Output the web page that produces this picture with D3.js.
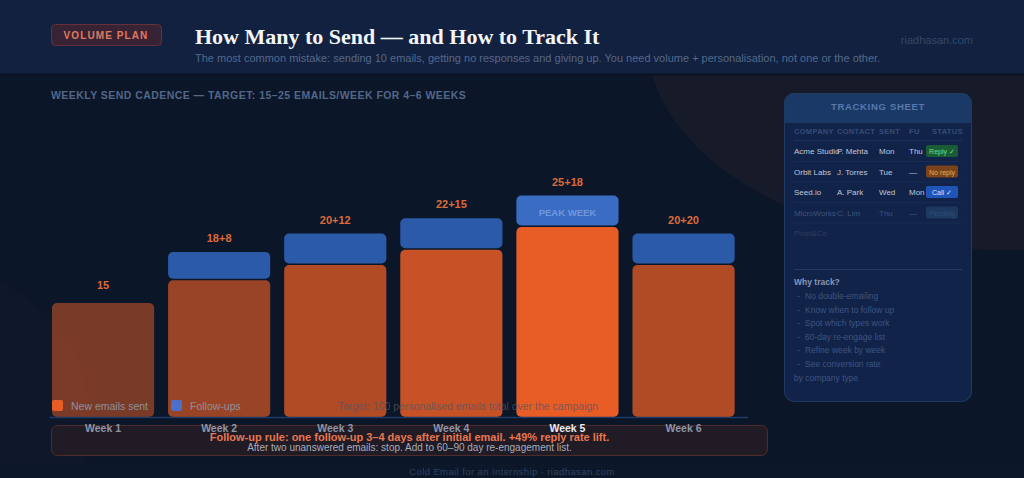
<!DOCTYPE html>
<html>
<head>
<meta charset="utf-8">
<script src="https://cdn.jsdelivr.net/npm/d3@7"></script>
<style>
  html, body { margin: 0; padding: 0; background: #0b1628; }
  svg { display: block; font-family: "Liberation Sans", Arial, sans-serif; }
</style>
</head>
<body>
<div class="canvas"></div>
<script>
const weeks = ['Week 1', 'Week 2', 'Week 3', 'Week 4', 'Week 5', 'Week 6'];
const newSent = [15, 18, 20, 22, 25, 20];
const followUps = [0, 8, 12, 15, 18, 20];
const peakWeek = 'Week 5';

const companies = ['Acme Studio', 'Orbit Labs', 'Seed.io', 'MicroWorks', 'Pixel&Co'];
const contacts = ['P. Mehta', 'J. Torres', 'A. Park', 'C. Lim', ''];
const sentDays = ['Mon', 'Tue', 'Wed', 'Thu', ''];
const fuDays = ['Thu', '—', 'Mon', '—', ''];
const statuses = ['Reply ✓', 'No reply', 'Call ✓', 'Pending', ''];
const tableCols = ['COMPANY', 'CONTACT', 'SENT', 'FU', 'STATUS'];
const whyTrack = ['No double-emailing', 'Know when to follow up', 'Spot which types work',
  '60-day re-engage list', 'Refine week by week', 'See conversion rate'];

const width = 1024;
const height = 478;

const svg = d3
  .select('.canvas')
  .append('svg')
  .attr('width', width)
  .attr('height', height);

// background
svg.append('rect').attr('width', width).attr('height', height).attr('fill', '#0b1628');
svg.append('ellipse')
  .attr('cx', 1005).attr('cy', 40).attr('rx', 358).attr('ry', 210)
  .attr('fill', '#171a28');
svg.append('circle').attr('cx', -60).attr('cy', 420).attr('r', 150).attr('fill', '#0e182a');
svg.append('rect').attr('y', 463).attr('width', width).attr('height', 15).attr('fill', '#0c1829');

// header
svg.append('rect').attr('width', width).attr('height', 74).attr('fill', '#11213f');
svg.append('line')
  .attr('x1', 0).attr('x2', width).attr('y1', 74.5).attr('y2', 74.5)
  .attr('stroke', '#0a1222').attr('stroke-width', 2);

svg.append('rect')
  .attr('x', 51.5).attr('y', 24.5).attr('width', 110).attr('height', 21).attr('rx', 4)
  .attr('fill', '#372334').attr('stroke', '#66303a');
svg.append('text')
  .attr('x', 106).attr('y', 38.5).attr('text-anchor', 'middle')
  .attr('fill', '#e07a5f').attr('font-size', 10).attr('font-weight', 'bold')
  .attr('letter-spacing', 1.1)
  .text('VOLUME PLAN');

svg.append('text')
  .attr('x', 195).attr('y', 44)
  .attr('font-family', '"Liberation Serif", "Times New Roman", serif')
  .attr('font-size', 22).attr('font-weight', 'bold').attr('fill', '#f3f5f9')
  .text('How Many to Send — and How to Track It');
svg.append('text')
  .attr('x', 195).attr('y', 62)
  .attr('font-size', 11).attr('fill', '#55688b')
  .text('The most common mistake: sending 10 emails, getting no responses and giving up. You need volume + personalisation, not one or the other.');
svg.append('text')
  .attr('x', 973).attr('y', 44).attr('text-anchor', 'end')
  .attr('font-size', 11).attr('fill', '#33486c')
  .text('riadhasan.com');

svg.append('text')
  .attr('x', 51).attr('y', 99)
  .attr('font-size', 10.5).attr('font-weight', 'bold').attr('fill', '#536788')
  .attr('letter-spacing', 0.45)
  .text('WEEKLY SEND CADENCE — TARGET: 15–25 EMAILS/WEEK FOR 4–6 WEEKS');

// Scales
const baseline = 417;
const x = d3.scaleBand().domain(weeks).range([45, 741.6]).paddingInner(0.12).paddingOuter(0.06);
const y = d3.scaleLinear().domain([0, 30]).range([baseline, baseline - 228]);
const fuHeight = d3.scaleLinear().domain([0, 9]).range([0, 30]).clamp(true);
const shade = d3.scaleLinear().domain([15, 25]).range([0.5, 1]);
const gap = 1.5;

const data = weeks.map((w, i) => ({ week: w, sent: newSent[i], fu: followUps[i] }));
const graph = svg.append('g');

// new emails
graph.selectAll('rect.sent')
  .data(data)
  .enter()
  .append('rect')
  .attr('class', 'sent')
  .attr('x', d => x(d.week))
  .attr('y', d => y(d.sent))
  .attr('width', x.bandwidth())
  .attr('height', d => baseline - y(d.sent))
  .attr('rx', 5)
  .attr('fill', '#e85d26')
  .attr('fill-opacity', d => shade(d.sent));

// follow-ups
const fuTop = d => y(d.sent) - gap - fuHeight(d.fu);
graph.selectAll('rect.fu')
  .data(data.filter(d => d.fu > 0))
  .enter()
  .append('rect')
  .attr('class', 'fu')
  .attr('x', d => x(d.week))
  .attr('y', fuTop)
  .attr('width', x.bandwidth())
  .attr('height', d => fuHeight(d.fu))
  .attr('rx', 5)
  .attr('fill', d => (d.week === peakWeek ? '#3a6cc4' : '#2b5ba8'));

// peak label
const peak = data.find(d => d.week === peakWeek);
graph.append('text')
  .attr('x', x(peak.week) + x.bandwidth() / 2)
  .attr('y', fuTop(peak) + fuHeight(peak.fu) / 2 + 5)
  .attr('text-anchor', 'middle')
  .attr('font-size', 9.5).attr('font-weight', 'bold').attr('fill', '#7198dc')
  .text('PEAK WEEK');

// value labels
graph.selectAll('text.val')
  .data(data)
  .enter()
  .append('text')
  .attr('class', 'val')
  .attr('x', d => x(d.week) + x.bandwidth() / 2)
  .attr('y', d => (d.fu > 0 ? fuTop(d) - 10 : y(d.sent) - 14))
  .attr('text-anchor', 'middle')
  .attr('font-size', 11).attr('font-weight', 'bold').attr('fill', '#dc6a3a')
  .text(d => (d.fu > 0 ? `${d.sent}+${d.fu}` : d.sent));

// baseline
graph.append('line')
  .attr('x1', 50).attr('x2', 748).attr('y1', baseline + 0.5).attr('y2', baseline + 0.5)
  .attr('stroke', '#1f3b66').attr('stroke-width', 1.5);

// legend
const legend = svg.append('g');
[['New emails sent', '#e85d26', 52], ['Follow-ups', '#4a70c8', 171]].forEach(([label, color, lx]) => {
  legend.append('rect')
    .attr('x', lx).attr('y', 400).attr('width', 11).attr('height', 11).attr('rx', 2)
    .attr('fill', color);
  legend.append('text')
    .attr('x', lx + 19).attr('y', 409.5)
    .attr('font-size', 10.5).attr('fill', '#8b909d')
    .text(label);
});
legend.append('text')
  .attr('x', 468).attr('y', 409.5).attr('text-anchor', 'middle')
  .attr('font-size', 10.5).attr('fill', '#4e5668').attr('fill-opacity', 0.75)
  .text('Target: 100 personalised emails total over the campaign');

// callout box
svg.append('rect')
  .attr('x', 51.5).attr('y', 425.5).attr('width', 716).attr('height', 30).attr('rx', 6)
  .attr('fill', '#211b26').attr('stroke', '#4d2c2a');

// x axis labels
const xAxis = d3.axisBottom(x).tickSize(0).tickPadding(8);
const xAxisGroup = svg.append('g').attr('transform', `translate(0, ${baseline})`).call(xAxis);
xAxisGroup.select('.domain').remove();
xAxisGroup.selectAll('text')
  .attr('font-family', '"Liberation Sans", Arial, sans-serif')
  .attr('font-size', 10.5).attr('font-weight', 'bold')
  .attr('fill', d => (d === peakWeek ? '#e9edf3' : '#8d96a8'));

svg.append('text')
  .attr('x', 409.5).attr('y', 440.5).attr('text-anchor', 'middle')
  .attr('font-size', 11).attr('font-weight', 'bold').attr('fill', '#e8774f')
  .text('Follow-up rule: one follow-up 3–4 days after initial email. +49% reply rate lift.');
svg.append('text')
  .attr('x', 409.5).attr('y', 451).attr('text-anchor', 'middle')
  .attr('font-size', 10).attr('fill', '#a7adb9')
  .text('After two unanswered emails: stop. Add to 60–90 day re-engagement list.');

svg.append('text')
  .attr('x', 512).attr('y', 475).attr('text-anchor', 'middle')
  .attr('font-size', 9.5).attr('fill', '#2c4266').attr('letter-spacing', 0.4)
  .text('Cold Email for an Internship · riadhasan.com');

// tracking sheet panel
const panel = svg.append('g');
const clipId = 'panel-clip';
svg.append('defs').append('clipPath').attr('id', clipId)
  .append('rect').attr('x', 784).attr('y', 93).attr('width', 188).attr('height', 309).attr('rx', 10);
panel.append('rect')
  .attr('x', 784).attr('y', 93).attr('width', 188).attr('height', 309).attr('rx', 10)
  .attr('fill', '#12234a');
panel.append('rect')
  .attr('x', 784).attr('y', 93).attr('width', 188).attr('height', 30)
  .attr('fill', '#1b3967').attr('clip-path', `url(#${clipId})`);
panel.append('rect')
  .attr('x', 784.5).attr('y', 93.5).attr('width', 187).attr('height', 308).attr('rx', 10)
  .attr('fill', 'none').attr('stroke', '#1f3a63');
panel.append('text')
  .attr('x', 878).attr('y', 109.5).attr('text-anchor', 'middle')
  .attr('font-size', 9.5).attr('font-weight', 'bold').attr('fill', '#587aad')
  .attr('letter-spacing', 0.7)
  .text('TRACKING SHEET');

const colX = d3.scaleOrdinal().domain(tableCols).range([794, 837, 879, 909, 932]);
panel.selectAll('text.col')
  .data(tableCols)
  .enter()
  .append('text')
  .attr('x', d => colX(d)).attr('y', 134)
  .attr('font-size', 7.5).attr('font-weight', 'bold').attr('fill', '#364c74')
  .attr('letter-spacing', 0.3)
  .text(d => d);

const rowY = d3.scaleLinear().domain([0, 4]).range([151, 233]);
const rowColor = ['#bfc8d9', '#bfc8d9', '#bfc8d9', '#3b5378', '#2a3e63'];
const pillFill = { 'Reply ✓': '#1a5c36', 'No reply': '#7a4319', 'Call ✓': '#1f55b6', 'Pending': '#1d3960' };
const pillText = { 'Reply ✓': '#72dc8e', 'No reply': '#f0a64e', 'Call ✓': '#d5e3ff', 'Pending': '#2d4d7d' };

panel.append('line')
  .attr('x1', 794).attr('x2', 962).attr('y1', 140.5).attr('y2', 140.5)
  .attr('stroke', '#1b3156');
companies.forEach((c, i) => {
  const ry = rowY(i);
  const cells = [c, contacts[i], sentDays[i], fuDays[i]];
  cells.forEach((t, j) => {
    panel.append('text')
      .attr('x', colX(tableCols[j])).attr('y', ry + 3)
      .attr('font-size', 8).attr('fill', rowColor[i])
      .text(t);
  });
  if (statuses[i]) {
    panel.append('rect')
      .attr('x', 926).attr('y', ry - 6).attr('width', 32).attr('height', 12).attr('rx', 2)
      .attr('fill', pillFill[statuses[i]]);
    panel.append('text')
      .attr('x', 942).attr('y', ry + 3).attr('text-anchor', 'middle')
      .attr('font-size', 7).attr('fill', pillText[statuses[i]])
      .text(statuses[i]);
  }
  if (i < 4) {
    panel.append('line')
      .attr('x1', 794).attr('x2', 962).attr('y1', ry + 10.5).attr('y2', ry + 10.5)
      .attr('stroke', '#172c50');
  }
});

panel.append('line')
  .attr('x1', 794).attr('x2', 962).attr('y1', 269.5).attr('y2', 269.5)
  .attr('stroke', '#28385c');
panel.append('text')
  .attr('x', 794).attr('y', 285)
  .attr('font-size', 8.5).attr('font-weight', 'bold').attr('fill', '#8797b5')
  .text('Why track?');
const itemY = d3.scaleLinear().domain([0, whyTrack.length - 1]).range([299, 367]);
whyTrack.forEach((t, i) => {
  panel.append('text')
    .attr('x', 797).attr('y', itemY(i))
    .attr('font-size', 8.5).attr('fill', '#3c5480')
    .text('-');
  panel.append('text')
    .attr('x', 805).attr('y', itemY(i))
    .attr('font-size', 8.5).attr('fill', '#3c5480')
    .text(t);
});
panel.append('text')
  .attr('x', 794).attr('y', 381)
  .attr('font-size', 8.5).attr('fill', '#3c5480')
  .text('by company type');
</script>
</body>
</html>
